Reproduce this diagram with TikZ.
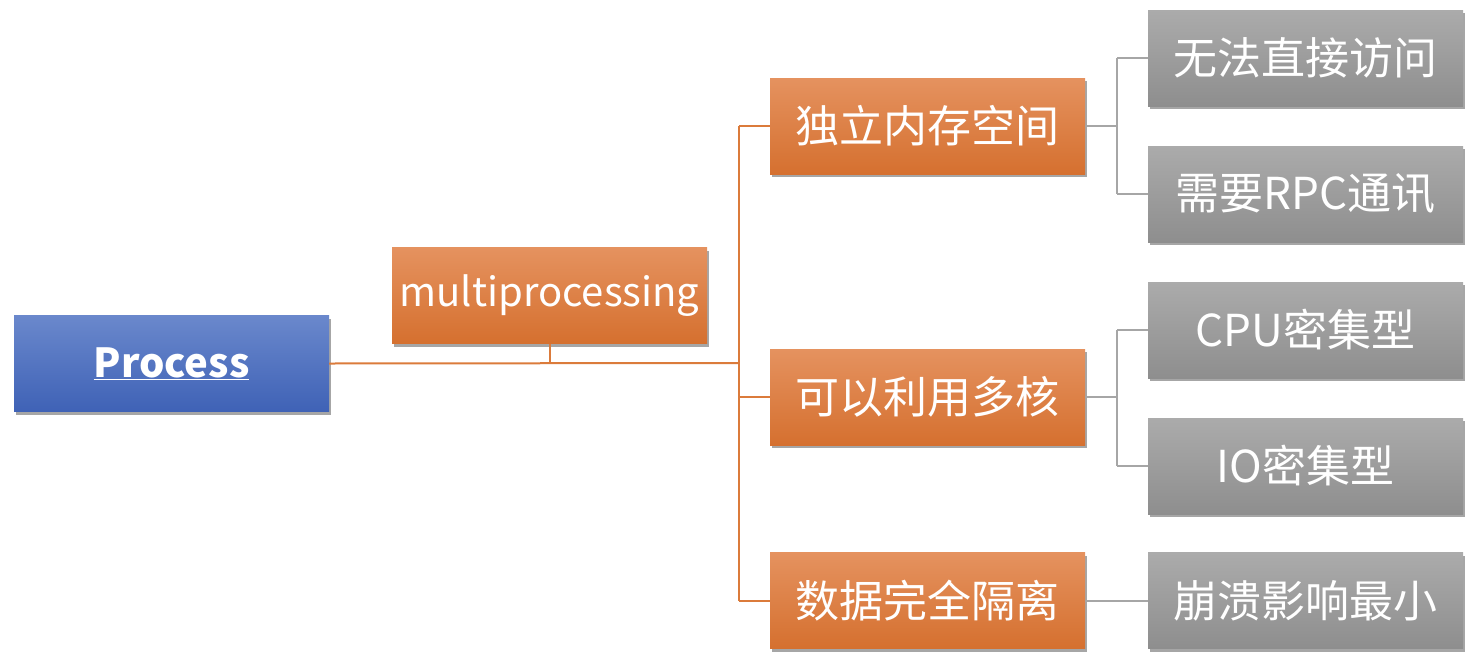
\documentclass[tikz,border=0pt]{standalone}
\usepackage{fontspec}
\newfontfamily\cjk{Noto Sans CJK SC}
\usetikzlibrary{shadows}
\definecolor{otop}{HTML}{E5925F}
\definecolor{obot}{HTML}{D5702F}
\definecolor{btop}{HTML}{6A88CC}
\definecolor{bbot}{HTML}{3F62B6}
\definecolor{gtop}{HTML}{ABABAB}
\definecolor{gbot}{HTML}{8E8E8E}
\definecolor{oline}{HTML}{DB7B3B}
\definecolor{gline}{HTML}{A6A6A6}
\tikzset{
  boxbase/.style={minimum width=315pt, minimum height=96pt, inner sep=0pt, text=white,
    font=\cjk\fontsize{44}{48}\selectfont,
    drop shadow={shadow xshift=2pt, shadow yshift=-3pt, opacity=0.35, fill=black}},
  obox/.style={boxbase, top color=otop, bottom color=obot},
  bbox/.style={boxbase, top color=btop, bottom color=bbot},
  gbox/.style={boxbase, top color=gtop, bottom color=gbot},
  smalltext/.style={font=\cjk\fontsize{40}{44}\selectfont},
  oconn/.style={draw=oline, line width=2pt},
  gconn/.style={draw=gline, line width=2pt},
}
\begin{document}
\begin{tikzpicture}[x=1pt,y=-1pt]
\useasboundingbox (0,0) rectangle (1478,662);
\coordinate (jo) at (739,363);
\coordinate (jg1) at (1117,126);
\coordinate (jg2) at (1117,397);
\node[bbox, smalltext] (proc) at (171.5,363.5) {\textbf{\underline{Process}}};
\node[obox, smalltext] (multi) at (549.5,295.5) {multiprocessing};
\node[obox] (m1) at (927.5,126) {独立内存空间};
\node[obox] (m2) at (927.5,397) {可以利用多核};
\node[obox] (m3) at (927.5,600.5) {数据完全隔离};
\node[gbox] (l1) at (1305.5,58) {无法直接访问};
\node[gbox] (l2) at (1305.5,194) {需要RPC通讯};
\node[gbox] (l3) at (1305.5,330) {CPU密集型};
\node[gbox] (l4) at (1305.5,466) {IO密集型};
\node[gbox] (l5) at (1305.5,600.5) {崩溃影响最小};
\draw[oconn] (proc.east) -- (jo);
\draw[oconn] (multi.south) -- (multi.south |- jo);
\draw[oconn] (jo |- m1.west) -- (jo |- m3.west);
\draw[oconn] (jo |- m1.west) -- (m1.west);
\draw[oconn] (jo |- m2.west) -- (m2.west);
\draw[oconn] (jo |- m3.west) -- (m3.west);
\draw[gconn] (m1.east) -- (jg1);
\draw[gconn] (jg1 |- l1.west) -- (jg1 |- l2.west);
\draw[gconn] (jg1 |- l1.west) -- (l1.west);
\draw[gconn] (jg1 |- l2.west) -- (l2.west);
\draw[gconn] (m2.east) -- (jg2);
\draw[gconn] (jg2 |- l3.west) -- (jg2 |- l4.west);
\draw[gconn] (jg2 |- l3.west) -- (l3.west);
\draw[gconn] (jg2 |- l4.west) -- (l4.west);
\draw[gconn] (m3.east) -- (l5.west);
\end{tikzpicture}
\end{document}
